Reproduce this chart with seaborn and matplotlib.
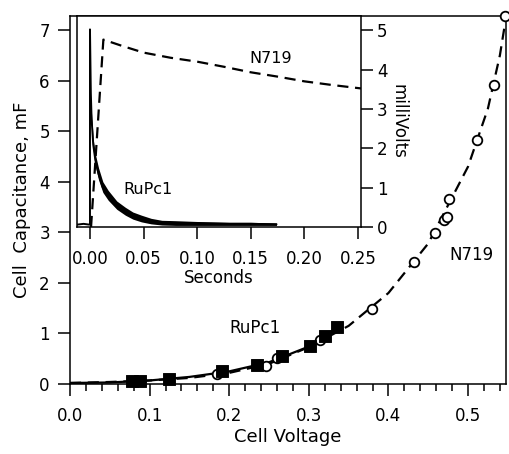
import numpy as np
import pandas as pd
import matplotlib
matplotlib.use("Agg")
import matplotlib.pyplot as plt
from matplotlib.ticker import MultipleLocator, FormatStrFormatter
import seaborn as sns

# --- Main plot data: capacitance vs. cell voltage ---
n719_v = [0.185, 0.2465, 0.260, 0.3145, 0.3795, 0.4327, 0.459, 0.470, 0.473, 0.476, 0.5115, 0.533, 0.546]
n719_c = [0.19, 0.36, 0.51, 0.87, 1.48, 2.42, 2.98, 3.25, 3.30, 3.65, 4.82, 5.91, 7.28]

rupc1_v = [0.078, 0.088, 0.124, 0.191, 0.235, 0.266, 0.301, 0.320, 0.336]
rupc1_c = [0.06, 0.06, 0.10, 0.25, 0.38, 0.55, 0.75, 0.95, 1.13]

# fitted curves
n719_fit_v = [0.0, 0.05, 0.10, 0.15, 0.20, 0.25, 0.30, 0.35, 0.40, 0.45, 0.50, 0.525, 0.54, 0.548]
n719_fit_c = [0.02, 0.04, 0.07, 0.12, 0.22, 0.40, 0.73, 1.15, 1.80, 2.78, 4.30, 5.45, 6.5, 7.28]

rupc1_fit_v = [0.0, 0.05, 0.10, 0.15, 0.20, 0.25, 0.30, 0.336]
rupc1_fit_c = [0.02, 0.03, 0.07, 0.14, 0.25, 0.43, 0.74, 1.12]

# --- Inset data: transient voltage vs. time ---
n719_t = [0.001, 0.0125, 0.03, 0.05, 0.075, 0.10, 0.125, 0.15, 0.175, 0.20, 0.225, 0.2528]
n719_mv = [0.0, 4.76, 4.60, 4.43, 4.30, 4.20, 4.07, 3.93, 3.82, 3.70, 3.61, 3.52]

rupc1_t = [-0.0121, -0.006, -0.0005, 0.0, 0.0, 0.0008, 0.0015, 0.003, 0.005, 0.008,
           0.012, 0.017, 0.025, 0.033, 0.04, 0.048, 0.057, 0.067, 0.08, 0.10, 0.13, 0.15, 0.174]
rupc1_mv = [0.06, 0.08, 0.06, 0.06, 5.02, 3.4, 2.75, 2.1, 1.7, 1.35,
            1.0, 0.8, 0.55, 0.4, 0.29, 0.21, 0.15, 0.11, 0.10, 0.09, 0.08, 0.08, 0.07]

# noise envelope of the RuPc1 trace
band_t = [0.0015, 0.003, 0.005, 0.008, 0.012, 0.017, 0.025, 0.033, 0.04, 0.048,
          0.057, 0.067, 0.08, 0.10, 0.13, 0.15, 0.174]
band_hi = [2.9, 2.25, 1.85, 1.5, 1.15, 0.93, 0.66, 0.5, 0.38, 0.3,
           0.22, 0.17, 0.16, 0.14, 0.12, 0.12, 0.10]
band_lo = [2.6, 1.95, 1.55, 1.2, 0.88, 0.68, 0.45, 0.3, 0.2, 0.13,
           0.08, 0.05, 0.04, 0.04, 0.04, 0.04, 0.04]

sns.set_style("ticks")
plt.rcParams['font.family'] = ['DejaVu Sans']
plt.rcParams['axes.linewidth'] = 1.1
plt.rcParams['text.color'] = 'black'
plt.rcParams['axes.labelcolor'] = 'black'
plt.rcParams['xtick.color'] = 'black'
plt.rcParams['ytick.color'] = 'black'

fig = plt.figure(figsize=(5.09, 4.54), dpi=100)
ax = fig.add_axes([70 / 509, 1 - 384 / 454, 436 / 509, 368 / 454])

sns.lineplot(x=n719_fit_v, y=n719_fit_c, ax=ax, color='black', lw=1.6,
             linestyle=(0, (5, 3)), sort=False, estimator=None)
sns.lineplot(x=rupc1_fit_v, y=rupc1_fit_c, ax=ax, color='black', lw=1.6,
             sort=False, estimator=None)
sns.scatterplot(x=n719_v, y=n719_c, ax=ax, marker='o', s=48, facecolor='white',
                edgecolor='black', linewidth=1.3, clip_on=False, zorder=4)
sns.scatterplot(x=rupc1_v, y=rupc1_c, ax=ax, marker='s', s=66, color='black',
                edgecolor='black', clip_on=False, zorder=5)

ax.set_xlim(0, 0.5477)
ax.set_ylim(0, 7.28)
ax.xaxis.set_major_locator(MultipleLocator(0.1))
ax.xaxis.set_minor_locator(MultipleLocator(0.02))
ax.yaxis.set_major_locator(MultipleLocator(1))
ax.tick_params(axis='both', which='major', direction='out', length=8.5, width=1.1,
               labelsize=12)
ax.tick_params(axis='x', which='major', pad=8)
ax.tick_params(axis='y', which='major', pad=6)
ax.tick_params(axis='x', which='minor', direction='out', length=5, width=1.1)
ax.xaxis.set_major_formatter(FormatStrFormatter('%.1f'))
ax.set_xlabel('Cell Voltage', fontsize=13, labelpad=2)
ax.set_ylabel('Cell  Capacitance, mF', fontsize=13, labelpad=6)
for s in ax.spines.values():
    s.set_visible(True)
    s.set_color('black')

ax.text(0.504, 2.55, 'N719', fontsize=12, ha='center', va='center')
ax.text(0.232, 1.11, 'RuPc1', fontsize=12, ha='center', va='center')

# --- inset ---
ax_in = fig.add_axes([77 / 509, 1 - 227 / 454, 284 / 509, 211 / 454])
ax_in.set_facecolor('white')
sns.lineplot(x=n719_t, y=n719_mv, ax=ax_in, color='black', lw=1.6,
             linestyle=(0, (5, 3)), sort=False, estimator=None)
sns.lineplot(x=rupc1_t, y=rupc1_mv, ax=ax_in, color='black', lw=1.4,
             sort=False, estimator=None)
ax_in.fill_between(band_t, band_lo, band_hi, color='black', lw=0)

ax_in.set_xlim(-0.0121, 0.2528)
ax_in.set_ylim(0, 5.36)
ax_in.xaxis.set_major_locator(MultipleLocator(0.05))
ax_in.yaxis.set_major_locator(MultipleLocator(1))
ax_in.xaxis.set_major_formatter(FormatStrFormatter('%.2f'))
ax_in.yaxis.tick_right()
ax_in.yaxis.set_label_position('right')
ax_in.tick_params(axis='both', direction='out', length=8.5, width=1.1, labelsize=12)
ax_in.tick_params(axis='x', pad=8)
ax_in.tick_params(axis='y', pad=3)
ax_in.set_xlabel('Seconds', fontsize=12, labelpad=1)
ax_in.set_ylabel('milliVolts', fontsize=12, rotation=270, labelpad=14)
for s in ax_in.spines.values():
    s.set_visible(True)
    s.set_color('black')

ax_in.text(0.169, 4.29, 'N719', fontsize=11.5, ha='center', va='center')
ax_in.text(0.054, 0.96, 'RuPc1', fontsize=11.5, ha='center', va='center')

fig.savefig('out.png', dpi=100)
